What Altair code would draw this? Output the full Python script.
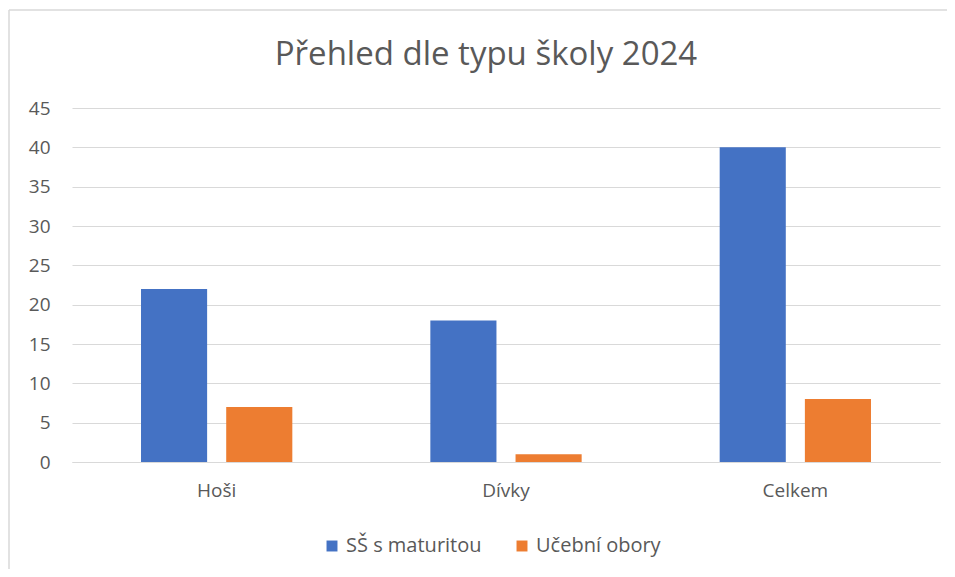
import altair as alt
import pandas as pd

title_text = "Přehled dle typu školy 2024"
categories = ["Hoši", "Dívky", "Celkem"]
series_names = ["SŠ s maturitou", "Učební obory"]
maturita = [22, 18, 40]
ucebni = [7, 1, 8]
colors = ["#4472C4", "#ED7D31"]

rows = []
for c, a, b in zip(categories, maturita, ucebni):
    rows.append({"kat": c, "serie": series_names[0], "hodnota": a})
    rows.append({"kat": c, "serie": series_names[1], "hodnota": b})
df = pd.DataFrame(rows)

FONT = "Open Sans"
GREY = "#595959"

bars = alt.Chart(df).mark_bar().encode(
    x=alt.X("kat:N", sort=categories, title=None,
            scale=alt.Scale(paddingInner=0, paddingOuter=0),
            axis=alt.Axis(labelAngle=0, labelFontSize=19, labelColor=GREY, labelFont=FONT,
                          labelPadding=19, ticks=False, domain=True, domainColor="#d9d9d9",
                          grid=False)),
    xOffset=alt.XOffset("serie:N", sort=series_names,
                        scale=alt.Scale(paddingInner=0.224, paddingOuter=0.81)),
    y=alt.Y("hodnota:Q", title=None,
            scale=alt.Scale(domain=[0, 45]),
            axis=alt.Axis(values=list(range(0, 50, 5)), labelFontSize=19, labelColor=GREY,
                          labelFont=FONT, labelPadding=22, ticks=False, domain=False,
                          gridColor="#d9d9d9", gridWidth=1)),
    color=alt.Color("serie:N", sort=series_names,
                    scale=alt.Scale(domain=series_names, range=colors),
                    legend=alt.Legend(title=None, orient="none", direction="horizontal",
                                      legendX=250, legendY=428, symbolType="square",
                                      symbolSize=120, symbolStrokeWidth=0,
                                      labelFontSize=20, labelColor=GREY, labelFont=FONT,
                                      columnPadding=30, labelOffset=4)),
)

one = pd.DataFrame({"a": [0]})
top_edge = alt.Chart(one).mark_rule(color="#d9d9d9", strokeWidth=1.5, clip=False).encode(
    x=alt.value(-63), x2=alt.value(880), y=alt.value(-98)
)
left_edge = alt.Chart(one).mark_rule(color="#d9d9d9", strokeWidth=1.5, clip=False).encode(
    x=alt.value(-63), y=alt.value(-98), y2=alt.value(480)
)

title = alt.Chart(pd.DataFrame({"t": [title_text]})).mark_text(
    font=FONT, fontSize=33, color=GREY, align="center", baseline="alphabetic", clip=False
).encode(text="t:N", x=alt.value(414), y=alt.value(-43))

chart = alt.layer(top_edge, left_edge, bars, title).properties(
    width=868, height=354,
    autosize=alt.AutoSizeParams(type="none"),
    padding={"left": 64, "top": 100, "right": 7, "bottom": 107},
).configure_view(stroke=None)

chart.save("out.html", embed_options={"renderer": "svg", "actions": False})
